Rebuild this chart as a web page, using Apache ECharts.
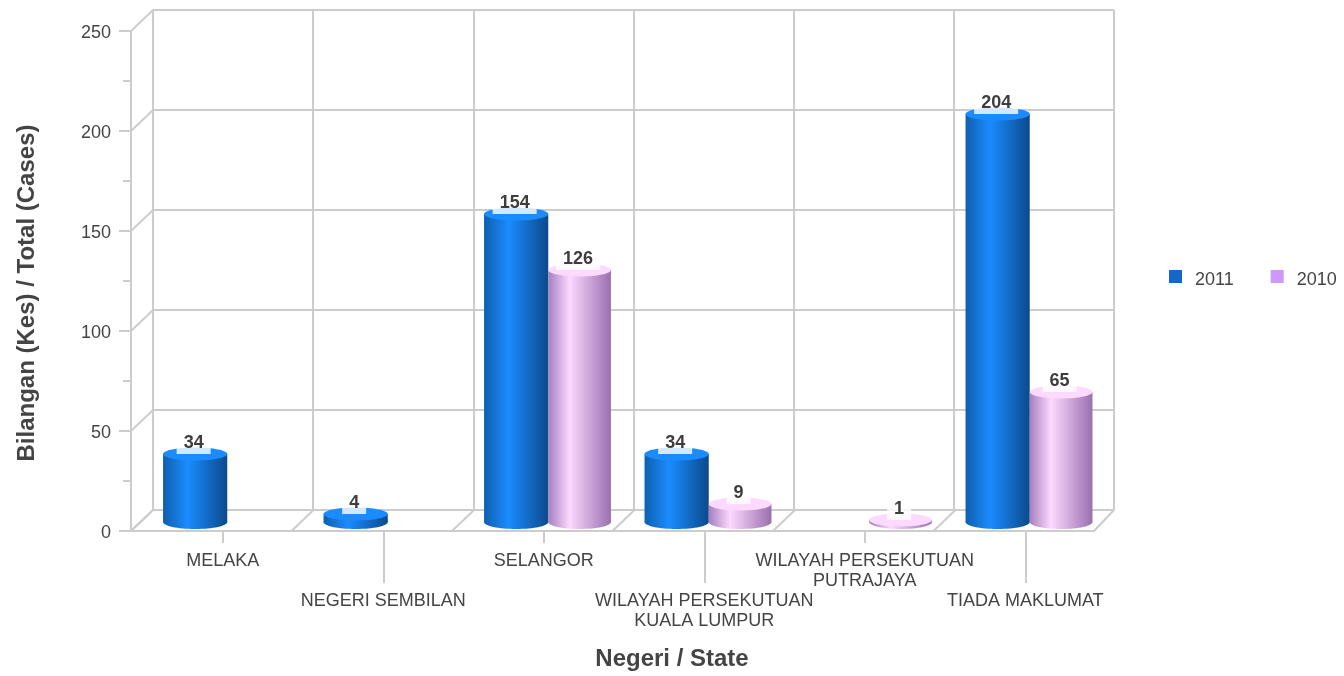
<!DOCTYPE html>
<html>
<head>
<meta charset="utf-8">
<style>html,body{margin:0;padding:0;background:#fff}#c{width:1344px;height:676px}</style>
<script src="https://cdn.jsdelivr.net/npm/echarts@6/dist/echarts.min.js"></script>
</head>
<body>
<div id="c"></div>
<script>
const categories = ['MELAKA','NEGERI SEMBILAN','SELANGOR','WILAYAH PERSEKUTUAN\nKUALA LUMPUR','WILAYAH PERSEKUTUAN\nPUTRAJAYA','TIADA MAKLUMAT'];
const values2011 = [34,4,154,34,null,204];
const values2010 = [null,null,126,9,1,65];
const yTicks = [0,50,100,150,200,250];
const FONT = '"Liberation Sans", Arial, sans-serif';
const LINE = '#cccccc', TEXT = '#444444';
const DEPTH_X = 22, DEPTH_Y = 21;

function cylinderSeries(name, values, slot, narrow, legendColor, topColor, stops) {
  const gradient = {type:'linear',x:0,y:0,x2:1,y2:0,colorStops:stops.map(s=>({offset:s[0],color:s[1]}))};
  return {
    name, type:'custom', xAxisIndex:1, yAxisIndex:1, z:5, clip:false,
    itemStyle:{color:legendColor},
    encode:{x:0,y:1},
    data: values.map((v,i)=>[i, v==null ? '-' : v]),
    renderItem(params, api) {
      const v = api.value(1);
      if (v == null || isNaN(v)) return null;
      const band = api.size([1,0])[0];
      const slotW = band*0.4, w = slotW - narrow, rx = w/2;
      const top = api.coord([api.value(0), v]);
      const base = api.coord([api.value(0), 0]);
      const cx = top[0] + 16 + slot*slotW - (slot > 0 ? narrow/2 : 0);
      const yTop = top[1] - 9, yBot = base[1] - 9;
      return {type:'group',children:[
        {type:'ellipse',shape:{cx,cy:yBot,rx,ry:7},style:{fill:gradient}},
        {type:'rect',shape:{x:cx-rx,y:yTop,width:w,height:yBot-yTop},style:{fill:gradient}},
        {type:'ellipse',shape:{cx,cy:yTop,rx,ry:6.5},style:{fill:topColor}},
        {type:'text',z2:10,style:{text:String(v),x:cx-1.5,y:yTop,align:'center',verticalAlign:'bottom',
          fill:'#3d3d3d',font:'bold 18px '+FONT,backgroundColor:'rgba(255,255,255,0.8)',padding:[0,7,2,7]}}
      ]};
    }
  };
}

const wallSeries = {
  type:'custom', xAxisIndex:1, yAxisIndex:1, z:1, silent:true, clip:false,
  encode:{x:0,y:1},
  data: yTicks.map(v=>[0,v]),
  renderItem(params, api) {
    const p = api.coord([0, api.value(1)]);
    const x = p[0] - api.size([1,0])[0]/2;
    return {type:'line',shape:{x1:x,y1:p[1],x2:x+DEPTH_X,y2:p[1]-DEPTH_Y},style:{stroke:LINE,lineWidth:2}};
  }
};
const floorSeries = {
  type:'custom', xAxisIndex:1, yAxisIndex:1, z:1, silent:true, clip:false,
  encode:{x:0,y:1},
  data: categories.map((c,i)=>[i,0]),
  renderItem(params, api) {
    const i = api.value(0);
    const p = api.coord([i, 0]);
    const band = api.size([1,0])[0];
    const edge = x => ({type:'line',shape:{x1:x,y1:p[1],x2:x+DEPTH_X-(x===p[0]+band/2?2:0),y2:p[1]-DEPTH_Y},style:{stroke:LINE,lineWidth:2}});
    const kids = [edge(p[0]-band/2)];
    if (i === categories.length-1) kids.push(edge(p[0]+band/2));
    return {type:'group',children:kids};
  }
};

const tickAxis = (isOdd, tickLen, margin, extra) => Object.assign({
  type:'category', gridIndex:2, data:categories, boundaryGap:true, position:'bottom',
  axisLine:{show:false},
  axisTick:{show:true,alignWithLabel:true,length:tickLen,interval:i=>i%2===isOdd,lineStyle:{color:LINE,width:2}},
  axisLabel:{show:true,interval:i=>i%2===isOdd,margin,color:TEXT,fontFamily:FONT,fontSize:18,lineHeight:20,hideOverlap:false},
  splitLine:{show:false}
}, extra||{});

const chart = echarts.init(document.getElementById('c'), null, {renderer:'canvas'});
chart.setOption({
  animation:false,
  backgroundColor:'#ffffff',
  textStyle:{fontFamily:FONT},
  legend:{
    left:1164, top:265, orient:'horizontal', icon:'rect', itemWidth:13, itemHeight:13, itemGap:37,
    data:['2011','2010'], selectedMode:false, formatter:'{t|{name}}',
    textStyle:{color:TEXT,fontSize:18,fontFamily:FONT,
      rich:{t:{color:TEXT,fontSize:18,fontFamily:FONT,padding:[7,0,0,8]}}}
  },
  grid:[
    {left:153,top:10,width:961,height:500},
    {left:131,top:31,width:963,height:500},
    {left:142.5,top:31,width:963,height:500}
  ],
  xAxis:[
    {type:'category',gridIndex:0,data:categories,axisLine:{show:false},axisTick:{show:false},axisLabel:{show:false},
      splitLine:{show:true,interval:0,showMinLine:true,showMaxLine:true,lineStyle:{color:LINE,width:2}}},
    {type:'category',gridIndex:1,data:categories,axisLine:{show:true,lineStyle:{color:LINE,width:2}},axisTick:{show:false},axisLabel:{show:false},splitLine:{show:false}},
    tickAxis(0,13,21),
    tickAxis(1,53,61,{name:'Negeri / State',nameLocation:'middle',nameGap:117,
      nameTextStyle:{color:TEXT,fontSize:24,fontWeight:'bold',fontFamily:FONT,padding:[0,0,0,96]}})
  ],
  yAxis:[
    {type:'value',gridIndex:0,min:0,max:250,interval:50,axisLine:{show:false},axisTick:{show:false},axisLabel:{show:false},
      splitLine:{show:true,showMinLine:true,showMaxLine:true,lineStyle:{color:LINE,width:2}}},
    {type:'value',gridIndex:1,min:0,max:250,interval:50,
      axisLine:{show:true,lineStyle:{color:LINE,width:2}},
      axisTick:{show:true,length:12,lineStyle:{color:LINE,width:2}},
      minorTick:{show:true,splitNumber:2,length:8,lineStyle:{color:LINE,width:2}},
      axisLabel:{show:true,margin:20,color:TEXT,fontSize:18,fontFamily:FONT,formatter:'{a|{value}}',
        rich:{a:{color:TEXT,fontSize:18,fontFamily:FONT,padding:[4,0,0,0]}},showMinLabel:true,showMaxLabel:true},
      splitLine:{show:false},
      name:'Bilangan (Kes) / Total (Cases)',nameLocation:'middle',nameGap:92,nameRotate:90,
      nameTextStyle:{color:TEXT,fontSize:24,fontWeight:'bold',fontFamily:FONT,padding:[0,24,0,0]}},
    {type:'value',gridIndex:2,min:0,max:250,show:false}
  ],
  series:[
    wallSeries, floorSeries,
    cylinderSeries('2011', values2011, -0.5, 0, '#1467c8', '#1a8cff', [[0,'#0f5fae'],[0.38,'#1a8cff'],[1,'#0b4a8c']]),
    cylinderSeries('2010', values2010, 0.5, 1.5, '#cc99ff', '#fcd9ff', [[0,'#a57fbf'],[0.34,'#fcd9ff'],[1,'#9a6fb0']])
  ]
});
</script>
</body>
</html>
